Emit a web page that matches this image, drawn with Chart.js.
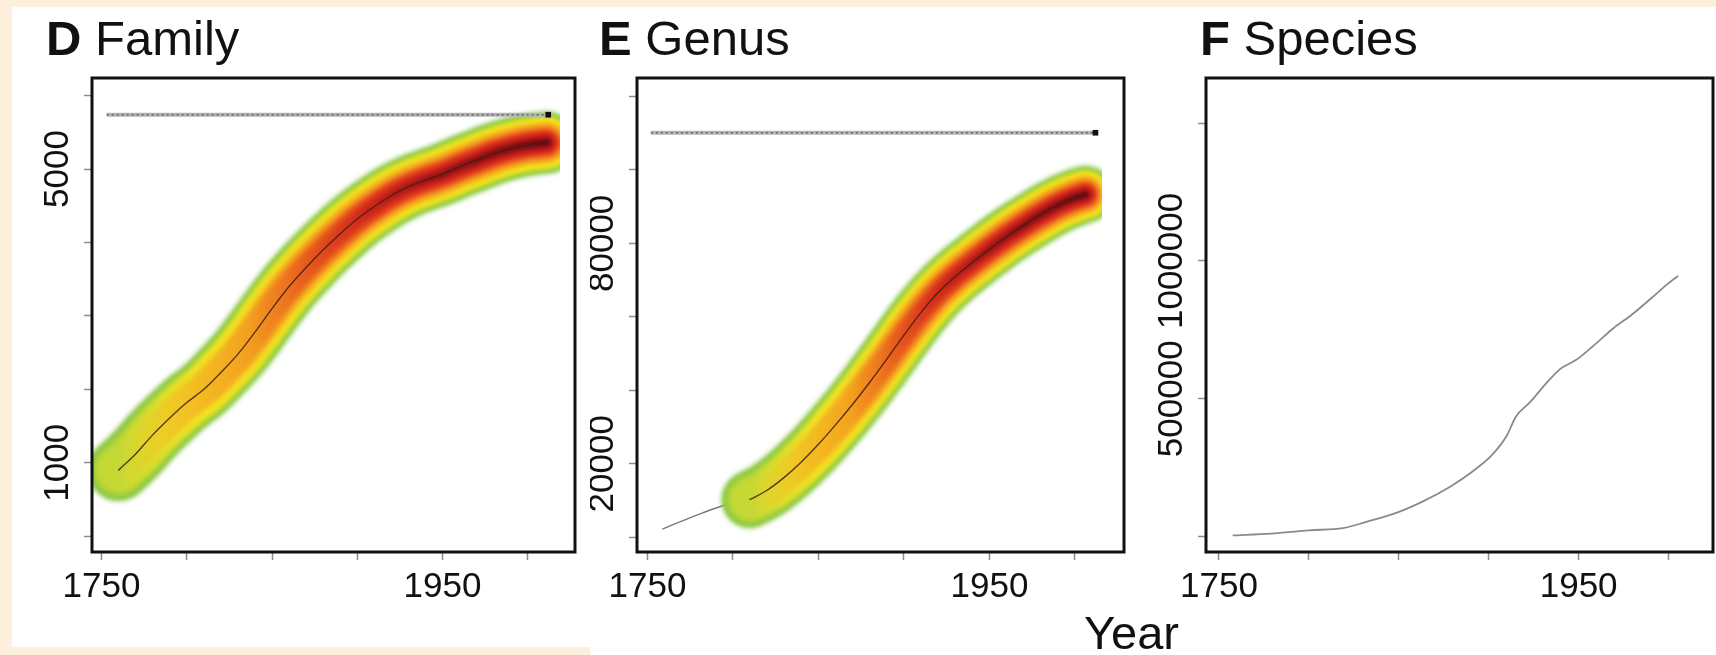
<!DOCTYPE html>
<html>
<head>
<meta charset="utf-8">
<title>Family / Genus / Species</title>
<script src="https://cdn.jsdelivr.net/npm/chart.js@4.4.1/dist/chart.umd.min.js"></script>
<style>
  html, body { margin: 0; padding: 0; }
  body {
    width: 1716px; height: 655px; position: relative; overflow: hidden;
    background: #fcefdb; font-family: 'Liberation Sans', Arial, sans-serif; color: #111;
  }
  .paper { position: absolute; background: #fff; }
  .panel-title { position: absolute; top: 14px; font-size: 49px; line-height: 49px; white-space: nowrap; }
  .panel-title b { font-weight: bold; }
  canvas { position: absolute; }
  #year { position: absolute; left: 1084px; top: 609px; font-size: 47px; line-height: 47px; }
</style>
</head>
<body>
<div class="paper" style="left:12px;top:7px;width:1704px;height:640px"></div>
<div class="paper" style="left:590px;top:640px;width:1126px;height:15px"></div>

<div class="panel-title" style="left:46px"><b>D</b> Family</div>
<div class="panel-title" style="left:599px"><b>E</b> Genus</div>
<div class="panel-title" style="left:1200px"><b>F</b> Species</div>

<canvas id="chart-d" width="578" height="595" style="left:12px;top:60px"></canvas>
<canvas id="chart-e" width="550" height="595" style="left:590px;top:60px"></canvas>
<canvas id="chart-f" width="576" height="595" style="left:1140px;top:60px"></canvas>
<div id="year">Year</div>

<script>
// --- data ---
const xTickYears = [1750, 1800, 1850, 1900, 1950, 2000];
const xTickLabels = [1750, 1950];

// D: families
const familyYears = [1760, 1770, 1780, 1790, 1800, 1810, 1820, 1830, 1840, 1850, 1860, 1870, 1880, 1890, 1900, 1910, 1920, 1930, 1940, 1950, 1960, 1970, 1980, 1990, 2000, 2011];
const familyCounts = [900, 1120, 1380, 1610, 1820, 2000, 2230, 2480, 2780, 3100, 3400, 3660, 3900, 4120, 4320, 4490, 4640, 4760, 4850, 4930, 5030, 5120, 5210, 5280, 5330, 5360];
const familyAsymptoteYears = [1753, 2013];
const familyAsymptote = 5740;
const familyTicks = [0, 1000, 2000, 3000, 4000, 5000, 6000];
const familyTickLabels = [1000, 5000];

// E: genera
const genusYears = [1759, 1777, 1794, 1810, 1820, 1830, 1840, 1850, 1860, 1870, 1880, 1890, 1900, 1910, 1920, 1930, 1940, 1950, 1960, 1970, 1980, 1990, 2000, 2006];
const genusCounts = [2300, 5700, 8600, 10300, 12800, 16300, 20500, 25300, 30600, 36200, 42200, 48500, 55000, 61200, 66600, 71000, 74800, 78400, 81800, 84900, 87800, 90400, 92400, 93300];
const genusBandFrom = 1810;
const genusAsymptoteYears = [1752, 2013];
const genusAsymptote = 110100;
const genusTicks = [0, 20000, 40000, 60000, 80000, 100000, 120000];
const genusTickLabels = [20000, 80000];

// F: species
const speciesYears = [1758, 1779, 1800, 1819, 1832, 1849, 1864, 1879, 1891, 1902, 1910, 1915, 1923, 1933, 1940, 1945, 1950, 1961, 1969, 1980, 1991, 1999, 2005];
const speciesCounts = [4600, 10700, 22800, 30500, 53300, 86800, 129500, 182800, 236100, 297000, 365500, 434100, 487400, 563500, 609200, 627500, 647300, 708200, 753900, 807200, 868100, 913800, 944300];
const speciesTicks = [0, 500000, 1000000, 1500000];
const speciesTickLabels = [500000, 1000000];

// --- styling ---
const FONT = "'Liberation Sans', Arial, sans-serif";
const TICK_LEN = 8;
const Y_LABEL_GAP = 34;   // label centre to box edge
Chart.defaults.font.family = FONT;
Chart.defaults.color = '#111';

// colour layers of the density band, outer to inner; stops run along the band
const bandLayers = [
  { w: 62, blur: 2.5, stops: [[0, '#82c443'], [1, '#7cc242']] },
  { w: 55, blur: 2, stops: [[0, '#9ccd3e'], [0.3, '#c2da2f'], [1, '#cfde2b']] },
  { w: 48, blur: 2, stops: [[0, '#b6d53a'], [0.2, '#f0e625'], [1, '#f8e61c']] },
  { w: 41, blur: 2, stops: [[0, 'rgba(225,225,45,0.35)'], [0.2, '#f5de22'], [0.4, '#f6c420'], [1, '#f6b01f']] },
  { w: 33, blur: 2, stops: [[0, 'rgba(243,190,36,0)'], [0.15, 'rgba(243,175,34,0.6)'], [0.35, '#f2961f'], [1, '#ef7e1f']] },
  { w: 25, blur: 2, stops: [[0, 'rgba(235,110,32,0)'], [0.3, 'rgba(235,110,32,0)'], [0.42, 'rgba(232,80,30,0.7)'], [0.6, '#e4401f'], [1, '#df2e1e']] },
  { w: 15, blur: 2, stops: [[0, 'rgba(200,30,25,0)'], [0.42, 'rgba(200,30,25,0)'], [0.55, 'rgba(200,30,25,0.6)'], [0.75, '#bd1c1b'], [1, '#a81418']] },
  { w: 7, blur: 1.5, stops: [[0, 'rgba(130,15,18,0)'], [0.55, 'rgba(130,15,18,0)'], [0.7, 'rgba(130,15,18,0.5)'], [0.9, '#850f13'], [1, '#700b0f']] }
];

const pts = (xs, ys) => xs.map((x, i) => ({ x: x, y: ys[i] }));

function alongBand(stops, fromYear, toYear) {
  return function(ctx) {
    const chart = ctx.chart;
    const xs = chart.scales.x;
    if (!chart.chartArea || !xs) return stops[stops.length - 1][1];
    const g = chart.ctx.createLinearGradient(xs.getPixelForValue(fromYear), 0, xs.getPixelForValue(toYear), 0);
    stops.forEach(s => g.addColorStop(s[0], s[1]));
    return g;
  };
}

function bandDatasets(data, scale, cutRight) {
  const from = data[0].x, to = data[data.length - 1].x;
  const clip = { left: 0, top: 0, right: -cutRight, bottom: 0 };
  const sets = bandLayers.map(l => ({
    data: data,
    borderColor: alongBand(l.stops, from, to),
    borderWidth: l.w * scale,
    blur: l.blur,
    clip: clip,
    order: 10 + l.w
  }));
  sets.push({ data: data, borderColor: 'rgba(70,28,20,0.85)', borderWidth: 1.4, order: 2 });
  return sets;
}

function asymptoteDatasets(years, value) {
  const line = years.map(x => ({ x: x, y: value }));
  const end = [{ x: years[1] - 1, y: value }];
  return [
    { data: line, borderColor: '#b4b4b4', borderWidth: 4, borderCapStyle: 'butt', order: 1 },
    { data: line, borderColor: '#666', borderWidth: 1.6, borderDash: [2, 3], borderCapStyle: 'butt', order: 0.5 },
    { data: end, showLine: false, pointRadius: 4, pointStyle: 'rect', pointBackgroundColor: '#111', pointBorderWidth: 0, order: 0 }
  ];
}

function yLabelPadding(labels) {
  const c = document.createElement('canvas').getContext('2d');
  c.font = '35px ' + FONT;
  const w = Math.max.apply(null, labels.map(l => c.measureText(String(l)).width));
  return Y_LABEL_GAP - TICK_LEN - w / 2;
}

const framePlugin = {
  id: 'frame',
  beforeDatasetDraw(chart, args) {
    const ds = chart.data.datasets[args.index];
    if (ds.blur) { chart.ctx.save(); chart.ctx.filter = 'blur(' + ds.blur + 'px)'; }
  },
  afterDatasetDraw(chart, args) {
    if (chart.data.datasets[args.index].blur) chart.ctx.restore();
  },
  afterDraw(chart) {
    const a = chart.chartArea, ctx = chart.ctx;
    ctx.save();
    ctx.strokeStyle = '#111';
    ctx.lineWidth = 3;
    ctx.strokeRect(a.left, a.top, a.right - a.left, a.bottom - a.top);
    ctx.restore();
  }
};

function makePanel(id, p) {
  const grid = { drawOnChartArea: false, drawTicks: true, tickLength: TICK_LEN, tickColor: '#8c8c8c', tickWidth: 1.5 };
  return new Chart(document.getElementById(id), {
    type: 'line',
    data: { datasets: p.datasets },
    options: {
      responsive: false,
      animation: false,
      layout: { padding: { top: 18, right: p.padRight, left: 0, bottom: 0 } },
      elements: {
        point: { radius: 0 },
        line: { tension: 0.4, cubicInterpolationMode: 'monotone', borderCapStyle: 'round', borderJoinStyle: 'round', fill: false }
      },
      plugins: { legend: { display: false }, tooltip: { enabled: false } },
      scales: {
        x: {
          type: 'linear', min: p.xMin, max: p.xMax,
          afterBuildTicks: s => { s.ticks = xTickYears.map(v => ({ value: v })); },
          afterFit: s => { s.height = 103; },
          ticks: {
            autoSkip: false, maxRotation: 0, padding: 6, color: '#111', font: { size: 35 },
            callback: v => xTickLabels.includes(v) ? String(v) : ''
          },
          grid: grid,
          border: { display: false }
        },
        y: {
          type: 'linear', min: p.yMin, max: p.yMax,
          afterBuildTicks: s => { s.ticks = p.yTicks.map(v => ({ value: v })); },
          afterFit: s => { s.width = p.yAxisWidth; },
          ticks: {
            autoSkip: false, minRotation: 90, maxRotation: 90, crossAlign: 'center',
            padding: yLabelPadding(p.yLabels), color: '#111', font: { size: 35 },
            callback: v => p.yLabels.includes(v) ? String(v) : ''
          },
          grid: grid,
          border: { display: false }
        }
      }
    },
    plugins: [framePlugin]
  });
}

// D Family
const familyPts = pts(familyYears, familyCounts);
makePanel('chart-d', {
  xMin: 1744.4, xMax: 2027.7, yMin: -215, yMax: 6240,
  yTicks: familyTicks, yLabels: familyTickLabels,
  yAxisWidth: 80, padRight: 15,
  datasets: bandDatasets(familyPts, 1, 15)
    .concat(asymptoteDatasets(familyAsymptoteYears, familyAsymptote))
});

// E Genus
const genusPts = pts(genusYears, genusCounts);
makePanel('chart-e', {
  xMin: 1743.9, xMax: 2028.7, yMin: -4000, yMax: 125000,
  yTicks: genusTicks, yLabels: genusTickLabels,
  yAxisWidth: 47, padRight: 16,
  datasets: [{ data: genusPts, borderColor: '#7a7a7a', borderWidth: 1.5, order: 200 }]
    .concat(bandDatasets(genusPts.filter(d => d.x >= genusBandFrom), 0.92, 22))
    .concat(asymptoteDatasets(genusAsymptoteYears, genusAsymptote))
});

// F Species
makePanel('chart-f', {
  xMin: 1742.8, xMax: 2024.7, yMin: -56000, yMax: 1663500,
  yTicks: speciesTicks, yLabels: speciesTickLabels,
  yAxisWidth: 66, padRight: 3,
  datasets: [{ data: pts(speciesYears, speciesCounts), borderColor: '#8a8a8a', borderWidth: 1.8, order: 1 }]
});
</script>
</body>
</html>
